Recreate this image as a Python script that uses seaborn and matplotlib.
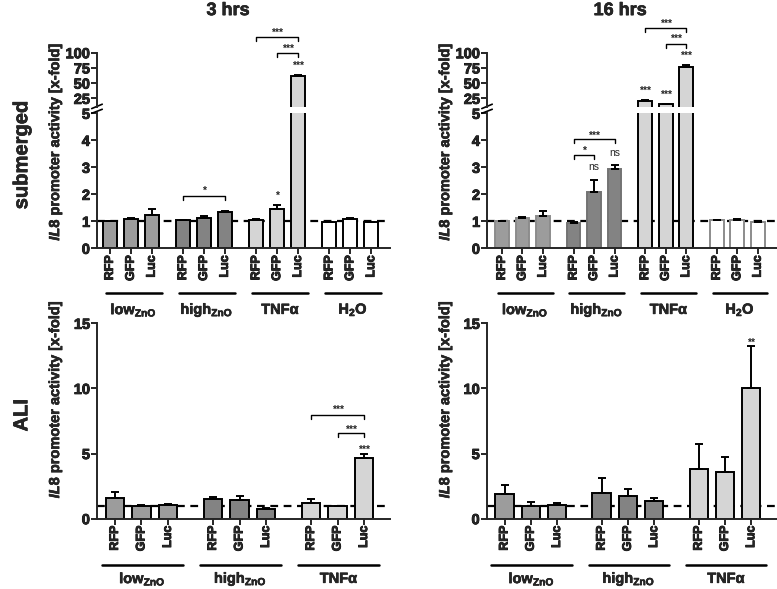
import numpy as np
import pandas as pd
import matplotlib.pyplot as plt
import matplotlib.patheffects as pe
import seaborn as sns

# Datos (media y error superior)
vectors = ["RFP", "GFP", "Luc"]
groups_sub = ["low", "high", "TNF", "H2O"]
groups_ali = ["low", "high", "TNF"]

sub3_mean = [1.00, 1.08, 1.22, 1.04, 1.13, 1.33, 1.05, 1.45, 62.0, 0.98, 1.08, 0.97]
sub3_err = [0.02, 0.05, 0.25, 0.02, 0.06, 0.07, 0.02, 0.15, 1.0, 0.01, 0.03, 0.02]
sub16_mean = [1.02, 1.12, 1.18, 0.95, 2.10, 2.92, 1.05, 1.06, 0.98]
sub16_tnf_mean = [21.0, 15.0, 76.0]
sub16_tnf_err = [2.0, 0.5, 4.0]
sub16_err = [0.01, 0.03, 0.22, 0.04, 0.43, 0.17, 0.01, 0.02, 0.02]
ali3_mean = [1.60, 1.00, 1.05, 1.50, 1.45, 0.75, 1.20, 0.98, 4.65]
ali3_err = [0.45, 0.03, 0.05, 0.20, 0.32, 0.10, 0.32, 0.03, 0.30]
ali16_mean = [1.90, 1.00, 1.05, 2.00, 1.75, 1.35, 3.85, 3.60, 10.0]
ali16_err = [0.65, 0.25, 0.12, 1.15, 0.55, 0.20, 1.90, 1.10, 3.25]

# ensamblar submerged 16 hrs (low, high, TNF, H2O)
sub16_all_mean = sub16_mean[:6] + sub16_tnf_mean + sub16_mean[6:]
sub16_all_err = sub16_err[:6] + sub16_tnf_err + sub16_err[6:]

group_labels = {"low": r"low$_{\rm ZnO}$", "high": r"high$_{\rm ZnO}$",
                "TNF": "TNFα", "H2O": r"H$_{\rm 2}$O"}
group_colors = {"low": "#9c9c9c", "high": "#838383", "TNF": "#d5d5d5", "H2O": "#ffffff"}

sns.set_style("ticks")
plt.rcParams["font.family"] = ["Liberation Sans", "DejaVu Sans"]
plt.rcParams["font.weight"] = "bold"
plt.rcParams["mathtext.fontset"] = "custom"
plt.rcParams["mathtext.rm"] = "Liberation Sans:bold"
plt.rcParams["mathtext.it"] = "Liberation Sans:italic:bold"
plt.rcParams["mathtext.bf"] = "Liberation Sans:bold"

# trazo extra para que el texto se vea tan grueso como en el original
thick = [pe.withStroke(linewidth=0.6, foreground="black")]
semi = [pe.withStroke(linewidth=0.4, foreground="black")]


def make_df(groups, means, errs, gap):
    rows = []
    for g, grp in enumerate(groups):
        for i, v in enumerate(vectors):
            k = g * 3 + i
            rows.append({"group": grp, "vector": v, "pos": g * gap + i,
                         "mean": means[k], "err": errs[k]})
    return pd.DataFrame(rows)


def draw_bars(ax, df, width, edges, lw=1.4):
    for grp, sub in df.groupby("group", sort=False):
        sns.barplot(data=sub, x="pos", y="mean", native_scale=True,
                    color=group_colors[grp], saturation=1, width=width,
                    edgecolor=edges[grp], linewidth=lw, errorbar=None, ax=ax)
    ax.errorbar(df["pos"], df["mean"], yerr=[np.zeros(len(df)), df["err"]],
                fmt="none", ecolor="black", elinewidth=1.4, capsize=3,
                capthick=1.4, zorder=3)
    ax.set_xlabel("")
    ax.set_ylabel("")


def style_ax(ax, xlim):
    ax.set_xlim(*xlim)
    for s in ["top", "right"]:
        ax.spines[s].set_visible(False)
    for s in ["left", "bottom"]:
        ax.spines[s].set_linewidth(1.4)
    ax.tick_params(axis="both", width=1.4, length=4, labelsize=10, pad=1)


def bold_yticks(ax):
    for lab in ax.get_yticklabels():
        lab.set_fontweight("bold")
        lab.set_fontsize(10.5)
        lab.set_path_effects(thick)


def x_axis_labels(ax, df, line_y, text_y, left, right):
    ax.set_xticks(df["pos"])
    ax.set_xticklabels(df["vector"], rotation=90, fontsize=9, fontweight="bold")
    for lab in ax.get_xticklabels():
        lab.set_path_effects(thick)
    trans = ax.get_xaxis_transform()
    for grp, sub in df.groupby("group", sort=False):
        x0 = sub["pos"].min() - left
        x1 = sub["pos"].max() + right
        ax.plot([x0, x1], [line_y, line_y], color="black", lw=1.8,
                transform=trans, clip_on=False)
        ax.text((x0 + x1) / 2, text_y, group_labels[grp], transform=trans,
                ha="center", va="center", fontsize=10.5, fontweight="bold",
                path_effects=semi)


def bracket(ax, x1, x2, y, h, text, ty, size=7.5):
    ax.plot([x1, x1, x2, x2], [y - h, y, y, y - h], color="black", lw=1,
            clip_on=False)
    star(ax, (x1 + x2) / 2, ty, text, size)


def star(ax, x, y, text, size=7.5):
    ax.annotate(text, xy=(x, y), xytext=(0, -4.3), textcoords="offset points",
                ha="center", va="baseline", fontsize=size, fontweight="bold",
                annotation_clip=False)


def ns(ax, x, y):
    ax.annotate("ns", xy=(x, y), xytext=(0, -2.5), textcoords="offset points",
                ha="center", va="baseline", fontsize=7.5, fontweight="normal",
                annotation_clip=False)


def break_marks(ax_lo, ax_hi):
    kw = dict(color="black", lw=1.2, clip_on=False)
    ax_lo.plot([-0.018, 0.018], [1.0, 1.03], transform=ax_lo.transAxes, **kw)
    ax_hi.plot([-0.018, 0.018], [-0.02, 0.06], transform=ax_hi.transAxes, **kw)


fig = plt.figure(figsize=(7.77, 5.89), dpi=100)

black_edges = {g: "black" for g in groups_sub}
soft_edges = {"low": "#8c8c8c", "high": "#737373", "TNF": "black", "H2O": "#8c8c8c"}

panels = [
    (0.1248, 0.3772, sub3_mean, sub3_err, (-0.62, 13.4), black_edges),
    (0.6268, 0.3732, sub16_all_mean, sub16_all_err, (-0.73, 13.44), soft_edges),
]
top_axes = []
for left, width, means, errs, xlim, edges in panels:
    df = make_df(groups_sub, means, errs, 3.5)
    ax_lo = fig.add_axes([left, 0.5784, width, 0.2292])
    ax_hi = fig.add_axes([left, 0.8175, width, 0.0930])
    for ax in (ax_lo, ax_hi):
        draw_bars(ax, df, 0.67, edges)
        ax.axhline(1, color="black", lw=1.6, ls=(0, (3.5, 2.5)), zorder=0.5)
        style_ax(ax, xlim)
    ax_lo.set_ylim(0, 5)
    ax_lo.set_yticks([0, 1, 2, 3, 4, 5])
    ax_hi.set_ylim(10, 100)
    ax_hi.set_yticks([25, 50, 75, 100])
    ax_hi.spines["bottom"].set_visible(False)
    ax_hi.set_xticks([])
    bold_yticks(ax_lo)
    bold_yticks(ax_hi)
    x_axis_labels(ax_lo, df, -0.331, -0.456, 0.2, 0.47)
    break_marks(ax_lo, ax_hi)
    top_axes.append((ax_lo, ax_hi))

# anotaciones submerged 3 hrs
lo, hi = top_axes[0]
bracket(lo, 3.5, 5.5, 1.94, 0.15, "*", 2.23)
star(lo, 8, 2.05, "*")
star(hi, 9, 83, "***")
bracket(hi, 8, 9, 99, 6.5, "***", 112)
bracket(hi, 7, 9, 126, 6.5, "***", 137)

# anotaciones submerged 16 hrs
lo, hi = top_axes[1]
bracket(lo, 3.5, 4.5, 3.46, 0.15, "*", 3.71)
bracket(lo, 3.5, 5.5, 4.04, 0.15, "***", 4.27)
ns(lo, 4.5, 3.02)
ns(lo, 5.5, 3.54)
star(hi, 7, 42, "***")
star(hi, 8, 35, "***")
star(hi, 9, 99, "***")
bracket(hi, 8, 9, 115, 6.5, "***", 127)
bracket(hi, 7, 9, 140, 6.5, "***", 152)

# ALI
bottom_axes = []
for left, width, means, errs in [(0.1248, 0.3772, ali3_mean, ali3_err),
                                 (0.6264, 0.3736, ali16_mean, ali16_err)]:
    df = make_df(groups_ali, means, errs, 3.7)
    ax = fig.add_axes([left, 0.1194, width, 0.3317])
    draw_bars(ax, df, 0.7, black_edges)
    ax.axhline(1, color="black", lw=1.6, ls=(0, (3.5, 2.5)), zorder=0.5)
    style_ax(ax, (-0.68, 10.38))
    ax.set_ylim(0, 15)
    ax.set_yticks([0, 5, 10, 15])
    bold_yticks(ax)
    x_axis_labels(ax, df, -0.238, -0.308, 0.5, 0.57)
    bottom_axes.append(ax)

ax = bottom_axes[0]
bracket(ax, 7.4, 9.4, 7.96, 0.3, "***", 8.6)
bracket(ax, 8.4, 9.4, 6.55, 0.3, "***", 7.06)
star(ax, 9.4, 5.5, "***")
star(bottom_axes[1], 9.4, 13.7, "**")

# textos generales
ylab = r"$\it{IL8}$ promoter activity [x-fold]"
for x in (0.071, 0.573):
    for y in (0.760, 0.3226):
        fig.text(x, y, ylab, rotation=90, ha="center", va="center",
                 fontsize=10.5, fontweight="bold", path_effects=semi)
fig.text(0.2934, 0.982, "3 hrs", ha="center", va="center", fontsize=13,
         fontweight="bold", path_effects=semi)
fig.text(0.798, 0.982, "16 hrs", ha="center", va="center", fontsize=13,
         fontweight="bold", path_effects=semi)
fig.text(0.028, 0.737, "submerged", rotation=90, ha="center", va="center",
         fontsize=14.5, fontweight="bold", path_effects=semi)
fig.text(0.028, 0.295, "ALI", rotation=90, ha="center", va="center",
         fontsize=14.5, fontweight="bold", path_effects=semi)

fig.savefig("out.png", dpi=100)
